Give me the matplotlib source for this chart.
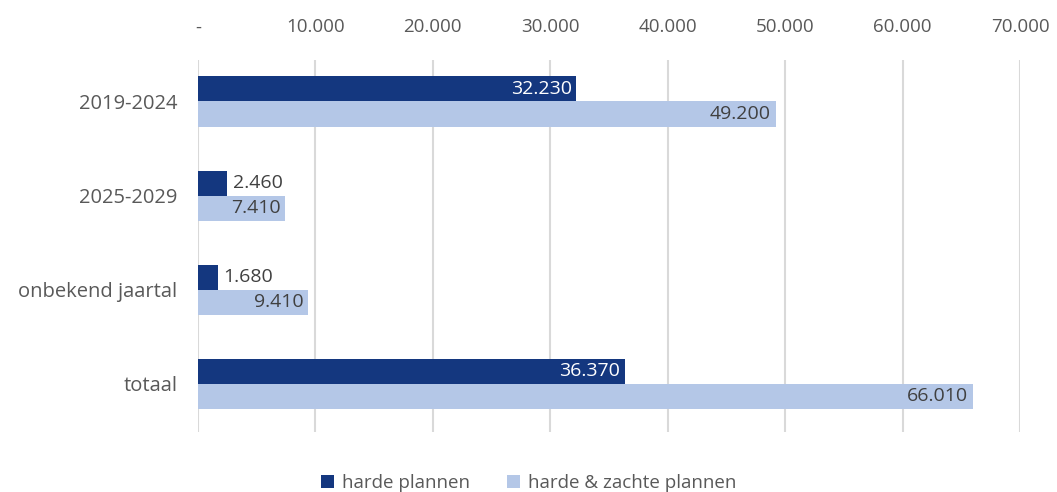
import numpy as np
import matplotlib.pyplot as plt
from matplotlib.ticker import FuncFormatter

categories = ["2019-2024", "2025-2029", "onbekend jaartal", "totaal"]
harde = [32230, 2460, 1680, 36370]
harde_zachte = [49200, 7410, 9410, 66010]
series_names = ["harde plannen", "harde & zachte plannen"]

dark = "#14377f"
light = "#b4c7e7"
txt = "#595959"

plt.rcParams["font.family"] = ["Open Sans", "DejaVu Sans"]

fig = plt.figure(figsize=(10.57, 4.92), dpi=100)
ax = fig.add_axes([0.1873, 0.122, 0.7777, 0.756])

y = np.arange(len(categories))
h = 0.266


def fmt(v):
    return f"{v:,.0f}".replace(",", ".")


b1 = ax.barh(y - h / 2, harde, height=h, color=dark, label=series_names[0], zorder=2)
b2 = ax.barh(y + h / 2, harde_zachte, height=h, color=light, label=series_names[1], zorder=2)

for bar, v in zip(b1, harde):
    cy = bar.get_y() + bar.get_height() / 2
    if v > 10000:
        ax.text(v - 400, cy, fmt(v), ha="right", va="center", color="white", fontsize=14)
    else:
        ax.text(v + 500, cy, fmt(v), ha="left", va="center", color="#404040", fontsize=14)
for bar, v in zip(b2, harde_zachte):
    cy = bar.get_y() + bar.get_height() / 2
    ax.text(v - 400, cy, fmt(v), ha="right", va="center", color="#404040", fontsize=14)

ax.set_xlim(0, 70000)
ax.set_ylim(3.51, -0.44)
ax.set_xticks(np.arange(0, 70001, 10000))
ax.xaxis.set_major_formatter(FuncFormatter(lambda v, p: "-" if v == 0 else fmt(v)))
ax.xaxis.tick_top()
ax.set_yticks(y)
ax.set_yticklabels(categories)
ax.tick_params(length=0, colors=txt)
ax.tick_params(axis="x", pad=17, labelsize=13.5)
ax.tick_params(axis="y", pad=15, labelsize=14.5)
ax.grid(axis="x", color="#d9d9d9", linewidth=1.5, zorder=0)
for s in ax.spines.values():
    s.set_visible(False)

leg = fig.legend(loc="lower center", ncol=2, frameon=False, fontsize=13.5,
                 bbox_to_anchor=(0.5, -0.035), handlelength=0.7, handleheight=0.7,
                 columnspacing=2.0, handletextpad=0.4)
for t in leg.get_texts():
    t.set_color(txt)

fig.savefig("out.png", dpi=100)
